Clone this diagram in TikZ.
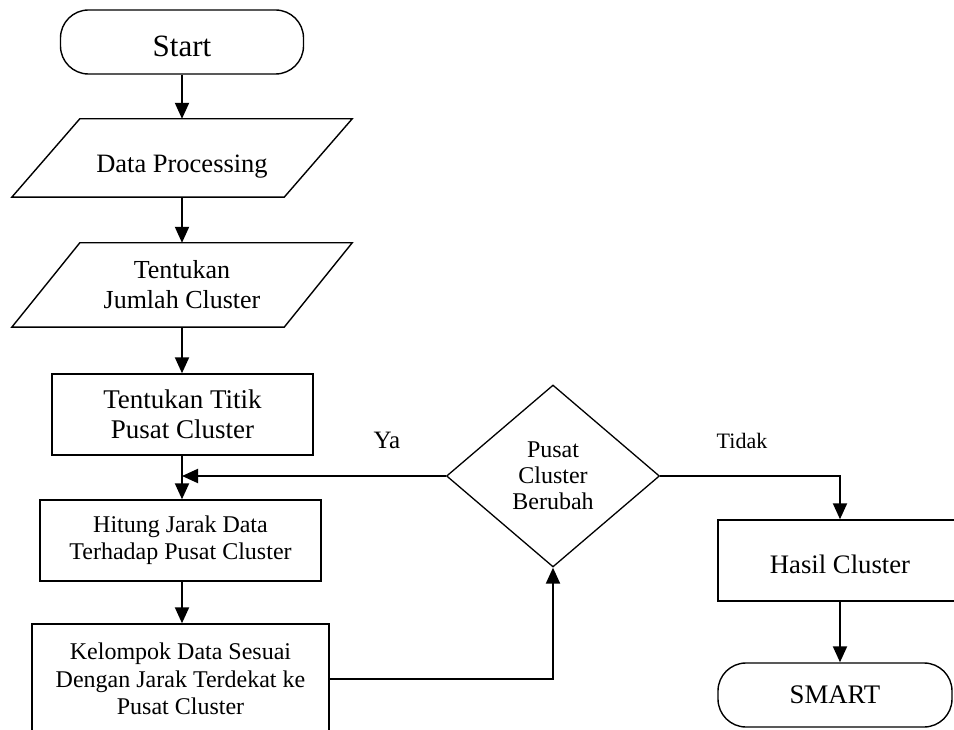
\documentclass[tikz,border=0pt]{standalone}
\usepackage{fontspec}
\setmainfont{Liberation Serif}
\usetikzlibrary{shapes.geometric,arrows.meta,calc}
\begin{document}
\begin{tikzpicture}[x=1pt,y=-1pt,
  box/.style={draw, line width=1.4pt, inner sep=0pt, align=center},
  term/.style={box, rounded corners=28pt},
  para/.style={inner sep=0pt, align=center},
  paraline/.style={line width=1.4pt},
  dec/.style={draw, diamond, line width=1.3pt, inner sep=0pt, align=center},
  arr/.style={line width=2pt, -{Triangle[length=16pt,width=14pt]}},
  lbl/.style={inner sep=0pt, anchor=base}
]
\useasboundingbox (0,0) rectangle (954,730);
\clip (0,0) rectangle (954,730);

\node[term, minimum width=243pt, minimum height=64pt, text height=30pt, text depth=0pt, font=\fontsize{31}{34}\selectfont] (start) at (182,42) {Start};

\node[para, minimum width=272pt, minimum height=78pt, text height=30pt, text depth=0pt, font=\fontsize{26.5}{30}\selectfont] (dp) at (182,158) {Data Processing};
\draw[paraline] ([xshift=34pt]dp.north west) -- ([xshift=34pt]dp.north east) -- ([xshift=-34pt]dp.south east) -- ([xshift=-34pt]dp.south west) -- cycle;

\node[para, minimum width=272pt, minimum height=84pt, font=\fontsize{26}{30}\selectfont] (jml) at (182,285) {Tentukan\\Jumlah Cluster};
\draw[paraline] ([xshift=34pt]jml.north west) -- ([xshift=34pt]jml.north east) -- ([xshift=-34pt]jml.south east) -- ([xshift=-34pt]jml.south west) -- cycle;

\node[box, minimum width=261pt, minimum height=81pt, font=\fontsize{27}{30}\selectfont] (titik) at (182.5,414.5) {Tentukan Titik\\Pusat Cluster};

\node[box, minimum width=281pt, minimum height=81pt, font=\fontsize{24}{27}\selectfont] (hitung) at (180.5,540.5) {Hitung Jarak Data\\Terhadap Pusat Cluster};

\node[box, minimum width=297pt, minimum height=110pt, font=\fontsize{24}{27.5}\selectfont] (kel) at (180.5,679) {Kelompok Data Sesuai\\Dengan Jarak Terdekat ke\\Pusat Cluster};

\node[dec, minimum width=213pt, minimum height=182pt, font=\fontsize{24}{26}\selectfont] (dia) at (553,476) {Pusat\\Cluster\\Berubah};

\node[box, minimum width=244pt, minimum height=81pt, text height=25pt, text depth=0pt, font=\fontsize{26.7}{30}\selectfont] (hasil) at (840,560.5) {Hasil Cluster};

\node[term, minimum width=234pt, minimum height=64pt, font=\fontsize{26.8}{30}\selectfont] (smart) at (835,695) {SMART};

\node[lbl, font=\fontsize{25}{28}\selectfont] (ya) at (387,448) {Ya};
\node[lbl, font=\fontsize{22}{26}\selectfont] (tidak) at (742,448) {Tidak};

\draw[arr] (start.south) -- (dp.north);
\draw[arr] (dp.south) -- (jml.north);
\draw[arr] (jml.south) -- (jml.south |- titik.north);
\draw[arr] (jml.south |- titik.south) -- (jml.south |- hitung.north);
\draw[arr] (jml.south |- hitung.south) -- (jml.south |- kel.north);
\draw[arr] (dia.west) -- (dia.west -| jml.south);
\draw[arr] (dia.east) -| (hasil.north);
\draw[arr] (hasil.south) -- (hasil.south |- smart.north);
\draw[arr] (kel.east) -| (dia.south);
\end{tikzpicture}
\end{document}
